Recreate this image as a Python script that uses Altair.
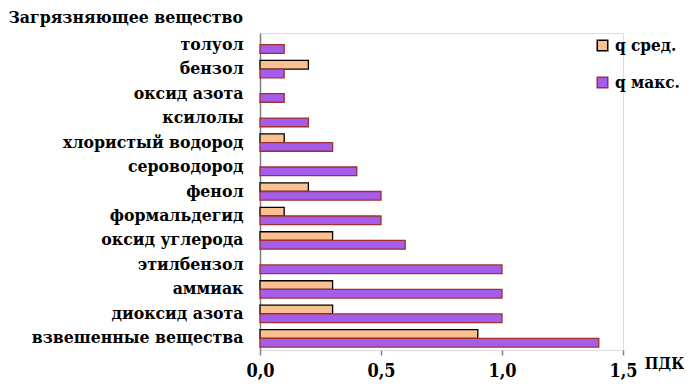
import altair as alt
import pandas as pd

categories = ["толуол", "бензол", "оксид азота", "ксилолы", "хлористый водород",
              "сероводород", "фенол", "формальдегид", "оксид углерода", "этилбензол",
              "аммиак", "диоксид азота", "взвешенные вещества"]
q_avg = [0.0, 0.2, 0.0, 0.0, 0.1, 0.0, 0.2, 0.1, 0.3, 0.0, 0.3, 0.3, 0.9]
q_max = [0.1, 0.1, 0.1, 0.2, 0.3, 0.4, 0.5, 0.5, 0.6, 1.0, 1.0, 1.0, 1.4]
series = ["q сред.", "q  макс."]

rows = []
for c, a, m in zip(categories, q_avg, q_max):
    rows.append({"cat": c, "s": series[0], "v": a})
    rows.append({"cat": c, "s": series[1], "v": m})
df = pd.DataFrame(rows)
df = df[df["v"] > 0]

FONT = "DejaVu Serif Condensed, DejaVu Serif"

chart = alt.Chart(df).mark_bar(strokeWidth=1.3).encode(
    y=alt.Y("cat:N", sort=categories,
            scale=alt.Scale(paddingInner=0.29, paddingOuter=0.12),
            axis=alt.Axis(title="Загрязняющее вещество", titleAngle=0, titleAlign="left",
                          titleBaseline="alphabetic", titleX=-252, titleY=-11,
                          titleFont=FONT, titleFontSize=17.5, titleFontWeight="bold",
                          titleColor="black",
                          labelFont=FONT, labelFontSize=17.5, labelFontWeight="bold",
                          labelColor="black", labelPadding=17, ticks=False,
                          labelLimit=300,
                          domainColor="#808080", domainWidth=1.5)),
    yOffset=alt.YOffset("s:N", sort=series, scale=alt.Scale(domain=series, paddingInner=0)),
    x=alt.X("v:Q", scale=alt.Scale(domain=[0, 1.5], nice=False),
            axis=alt.Axis(values=[0, 0.5, 1.0, 1.5], grid=False, domain=False,
                          labelExpr="replace(format(datum.value, '.1f'), '.', ',')",
                          labelFlush=False,
                          labelFont=FONT, labelFontSize=18, labelFontWeight="bold",
                          labelColor="black", labelPadding=7,
                          tickColor="#808080", tickSize=5, tickWidth=1.5,
                          title="ПДК", titleFont=FONT, titleFontSize=16,
                          titleFontWeight="bold", titleColor="black",
                          titleX=404, titleY=13, titleAlign="center",
                          titleBaseline="middle")),
    color=alt.Color("s:N", sort=series,
                    scale=alt.Scale(domain=series, range=["#FAC090", "#A45CEB"]),
                    legend=alt.Legend(title=None, orient="none", legendX=334, legendY=4,
                                      symbolType="square", symbolSize=110,
                                      symbolStrokeWidth=1.5,
                                      labelFont=FONT, labelFontSize=17,
                                      labelFontWeight="bold", labelColor="black",
                                      rowPadding=19, labelOffset=4)),
    stroke=alt.Stroke("s:N", sort=series,
                      scale=alt.Scale(domain=series, range=["#000000", "#A03030"]),
                      legend=None),
).properties(
    width=363, height=317,
    autosize=alt.AutoSizeParams(type="none"),
    padding={"left": 252, "top": 25, "right": 61, "bottom": 32},
).configure_view(strokeWidth=0, stroke="transparent").configure(font=FONT)

chart.save("out.html", embed_options={"renderer": "svg", "actions": False})
